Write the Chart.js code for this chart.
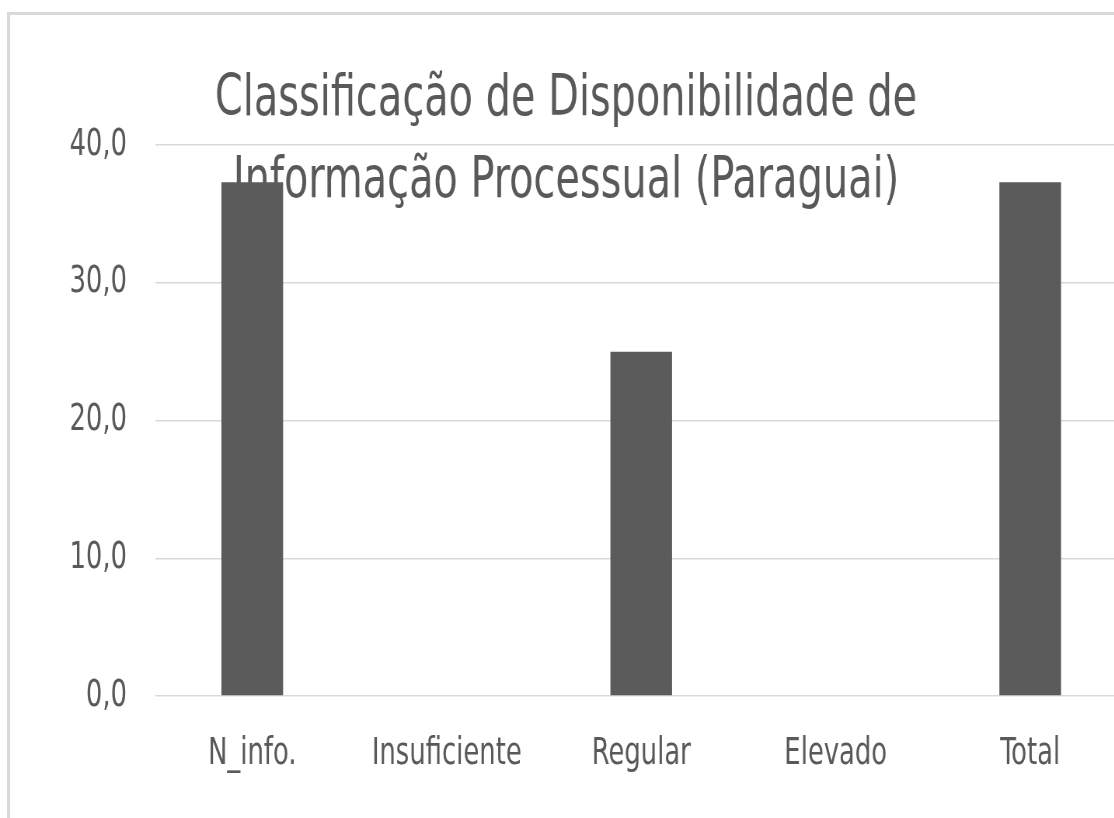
<!DOCTYPE html>
<html>
<head>
<meta charset="utf-8">
<script src="https://cdn.jsdelivr.net/npm/chart.js@4/dist/chart.umd.min.js"></script>
<style>
  html, body { margin: 0; padding: 0; background: #fff; overflow: hidden; }
  #frame { position: absolute; left: 7px; top: 12px; width: 1250px; height: 900px;
           border: 3px solid #d9d9d9; box-sizing: border-box; }
  /* the source picture is squeezed sideways, so the canvas is too */
  #wrap { position: absolute; left: 0; top: 0; width: 1493px; height: 818px;
          transform: scaleX(0.777); transform-origin: 0 0; }
</style>
</head>
<body>
<div id="frame"></div>
<div id="wrap"><canvas id="graficoParaguai"></canvas></div>
<script>
const categorias = ['N_info.', 'Insuficiente', 'Regular', 'Elevado', 'Total'];
const valores = [37.3, 0, 25.0, 0, 37.3];
const tituloLinhas = ['Classificação de Disponibilidade de', 'Informação Processual (Paraguai)'];
const yTicks = [0, 10, 20, 30, 40];

const fonte = "'DejaVu Sans Condensed', 'DejaVu Sans', sans-serif";
const cinzaTexto = '#595959';

const ctx = document.getElementById('graficoParaguai').getContext('2d');
new Chart(ctx, {
    type: 'bar',
    data: {
        labels: categorias,
        datasets: [{
            data: valores,
            backgroundColor: '#5b5b5b',
            borderWidth: 0,
            barPercentage: 0.317,
            categoryPercentage: 1
        }]
    },
    options: {
        responsive: true,
        maintainAspectRatio: false,
        animation: false,
        layout: { padding: { left: 6, right: 42, top: 0, bottom: 0 } },
        plugins: {
            legend: { display: false },
            tooltip: { enabled: false },
            title: {
                display: true,
                text: tituloLinhas,
                color: cinzaTexto,
                font: { family: fonte, size: 57, weight: 'normal', lineHeight: 1.44 },
                padding: { top: 59, bottom: -78 }
            }
        },
        scales: {
            x: {
                grid: { display: false, drawTicks: false },
                border: { display: false },
                ticks: {
                    color: cinzaTexto,
                    font: { family: fonte, size: 37 },
                    padding: 36,
                    maxRotation: 0
                },
                afterFit: function(scale) { scale.height = 122; }
            },
            y: {
                min: 0,
                max: 40,
                afterBuildTicks: function(scale) {
                    scale.ticks = yTicks.map(v => ({ value: v }));
                },
                grid: { color: '#d9d9d9', lineWidth: 1.5, drawTicks: false },
                border: { display: false },
                ticks: {
                    color: cinzaTexto,
                    font: { family: fonte, size: 37 },
                    padding: 36,
                    callback: v => v.toFixed(1).replace('.', ',')
                },
                afterFit: function(scale) { scale.width = 193.5; }
            }
        }
    }
});
</script>
</body>
</html>
